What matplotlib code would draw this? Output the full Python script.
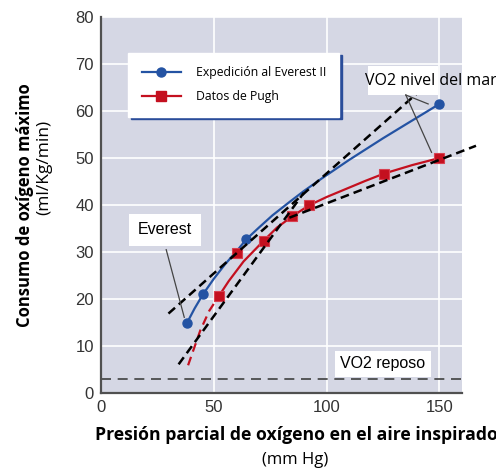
import matplotlib
matplotlib.use("Agg")
import matplotlib.pyplot as plt
from matplotlib.patches import Rectangle
from matplotlib.lines import Line2D

# ---- data ----
blue_pts_x = [38.0, 45.2, 64.4, 150.0]
blue_pts_y = [14.8, 21.0, 32.7, 61.5]
blue_curve_x = [38, 41.5, 45.2, 50, 55, 60, 64.4, 70, 76, 83.7, 90, 98, 110, 125, 138, 150]
blue_curve_y = [14.8, 18.0, 21.0, 24.3, 27.4, 30.1, 32.7, 35.2, 37.8, 40.7, 43.0, 45.7, 49.6, 54.2, 58.0, 61.5]

red_pts_x = [52.2, 60.4, 72.1, 84.8, 92.1, 125.5, 150.0]
red_pts_y = [20.6, 29.7, 32.4, 37.6, 39.9, 46.7, 50.0]
red_curve_x = [52.2, 56.6, 63.2, 72.1, 78, 84.8, 92.1, 100, 108, 117, 125.5, 138, 150]
red_curve_y = [20.6, 23.8, 28.0, 32.4, 35.2, 37.6, 39.9, 41.7, 43.3, 45.1, 46.7, 48.5, 50.0]
red_dash_x = [38.6, 44, 48, 52.2]
red_dash_y = [5.9, 13.3, 17.5, 20.6]

tangent_a_x = [29.9, 142.5]
tangent_a_y = [16.9, 64.8]
tangent_b_x = [34.4, 89.9]
tangent_b_y = [6.1, 42.6]
tangent_c_x = [83.5, 166.2]
tangent_c_y = [37.3, 52.6]

vo2_rest = 2.9

x_ticks = [0, 50, 100, 150]
y_ticks = [0, 10, 20, 30, 40, 50, 60, 70, 80]

BLUE = "#2453a3"
RED = "#c4101f"
BG = "#d5d7e4"

fig = plt.figure(figsize=(4.96, 4.68), dpi=100)
ax = fig.add_axes([101/496, 1-393/468, 361/496, 376/468])
ax.set_facecolor(BG)
ax.set_xlim(0, 160)
ax.set_ylim(0, 80)
ax.set_xticks(x_ticks)
ax.set_yticks(y_ticks)
ax.grid(True, color="white", lw=1.2)
ax.set_axisbelow(True)
for s in ["top", "right"]:
    ax.spines[s].set_visible(False)
for s in ["left", "bottom"]:
    ax.spines[s].set_color("#505050")
    ax.spines[s].set_linewidth(1.6)
ax.tick_params(length=0, pad=5, labelsize=12, labelcolor="#333333")
for lab in ax.get_xticklabels() + ax.get_yticklabels():
    lab.set_family("Liberation Sans")

# rest line
ax.axhline(vo2_rest, color="#404040", lw=1.2, dashes=(6, 4))

# curves
ax.plot(blue_curve_x, blue_curve_y, color=BLUE, lw=1.6, zorder=3)
ax.plot(blue_pts_x, blue_pts_y, "o", color=BLUE, ms=6.5, zorder=4)
ax.plot(red_curve_x, red_curve_y, color=RED, lw=1.6, zorder=3)
ax.plot(red_dash_x, red_dash_y, color=RED, lw=1.6, dashes=(4, 2.5), zorder=3)
ax.plot(red_pts_x, red_pts_y, "s", color=RED, ms=6.5, mec="#d84050", mew=0.8, zorder=4)

# tangents
for tx, ty in [(tangent_a_x, tangent_a_y), (tangent_b_x, tangent_b_y), (tangent_c_x, tangent_c_y)]:
    ax.plot(tx, ty, color="black", lw=1.8, dashes=(3.5, 2), zorder=5, clip_on=False)

# legend
h1 = Line2D([], [], color=BLUE, lw=1.6, marker="o", ms=6.5)
h2 = Line2D([], [], color=RED, lw=1.6, marker="s", ms=6.5)
leg = ax.legend([h1, h2], ["Expedición al Everest II", "Datos de Pugh"],
                loc="upper left", bbox_to_anchor=(0.0756, 0.905), borderaxespad=0,
                fancybox=False, framealpha=1, edgecolor="white", facecolor="white",
                shadow={"color": "#2a4d9a", "alpha": 1.0},
                prop={"family": "Open Sans", "size": 8.8}, labelspacing=0.9,
                borderpad=1.1, handlelength=3.2, handletextpad=1.2)
leg.set_zorder(6)

# annotation boxes
ax.text(28.2, 34.7, "Everest", ha="center", va="center", fontsize=11.5,
        family="Liberation Sans", zorder=6,
        bbox=dict(boxstyle="square,pad=0.55", fc="white", ec="none"))
ax.plot([28.9, 36.9], [30.5, 16.1], color="#444444", lw=0.9, zorder=5)

ax.text(125, 6.25, "VO2 reposo", ha="center", va="center", fontsize=11.5,
        family="Liberation Sans", zorder=6,
        bbox=dict(boxstyle="square,pad=0.35", fc="white", ec="none"))

ax.add_patch(Rectangle((118.5, 63.4), 30.7, 6.1, fc="white", ec="none", zorder=5))
ax.text(116.9, 66.3, "VO2 nivel del mar", ha="left", va="center", fontsize=11.5,
        family="Open Sans", zorder=6, clip_on=False)
ax.plot([135.1, 145.0], [63.4, 61.5], color="#444444", lw=0.9, zorder=5)
ax.plot([135.1, 146.5], [63.4, 51.2], color="#444444", lw=0.9, zorder=5)

# axis labels
fig.text(296/496, 1-435/468, "Presión parcial de oxígeno en el aire inspirado",
         ha="center", va="center", fontsize=12.7, fontweight="bold", family="Open Sans")
fig.text(295/496, 1-460/468, "(mm Hg)", ha="center", va="center", fontsize=12,
         family="Open Sans")
fig.text(25/496, 1-205/468, "Consumo de oxígeno máximo", ha="center", va="center",
         rotation=90, fontsize=12, fontweight="bold", family="Open Sans")
fig.text(44/496, 1-167/468, "(ml/Kg/min)", ha="center", va="center",
         rotation=90, fontsize=12.5, family="Open Sans")

fig.savefig("out.png", dpi=100)
